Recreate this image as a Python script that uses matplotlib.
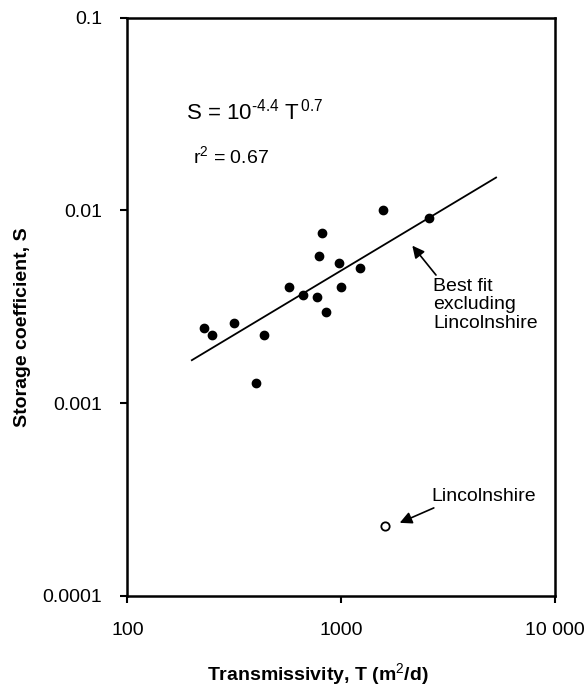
import matplotlib
matplotlib.use("Agg")
import matplotlib.pyplot as plt
import numpy as np

# transmissivity (m2/d) and storage coefficient
T_sites = [228, 249, 315, 435, 400, 567, 659, 774, 853, 813, 791, 977, 998, 1224, 1568, 2564]
S_sites = [0.00244, 0.00226, 0.00260, 0.00226, 0.00127, 0.00402, 0.00364, 0.00355,
           0.00298, 0.00766, 0.00578, 0.00531, 0.00399, 0.00500, 0.0101, 0.00917]

T_lincs = [1597]
S_lincs = [0.000231]

# fitted line as drawn: log S = a + b log T
fit_a = -4.31
fit_b = 0.666
fit_T_range = [200, 5300]

x_ticks = [100, 1000, 10000]
x_tick_labels = ["100", "1000", "10 000"]
y_ticks = [0.0001, 0.001, 0.01, 0.1]
y_tick_labels = ["0.0001", "0.001", "0.01", "0.1"]

plt.rcParams["font.family"] = ["Liberation Sans", "DejaVu Sans"]
plt.rcParams["mathtext.fontset"] = "custom"
plt.rcParams["mathtext.rm"] = "Liberation Sans"
plt.rcParams["mathtext.it"] = "Liberation Sans"
plt.rcParams["mathtext.bf"] = "Liberation Sans:bold"

fig = plt.figure(figsize=(5.87, 6.86), dpi=100)
ax = fig.add_axes([0.2172, 0.1316, 0.7283, 0.8426])

ax.set_xscale("log")
ax.set_yscale("log")
ax.set_xlim(100, 10000)
ax.set_ylim(0.0001, 0.1)

tt = np.array(fit_T_range, dtype=float)
ax.plot(tt, 10 ** (fit_a + fit_b * np.log10(tt)), color="black", lw=1.3, zorder=2)

ax.plot(T_sites, S_sites, "o", color="black", ms=6, zorder=3)
ax.plot(T_lincs, S_lincs, "o", mfc="white", mec="black", mew=1.3, ms=6, zorder=3)

ax.set_xticks(x_ticks)
ax.set_xticklabels(x_tick_labels)
ax.set_yticks(y_ticks)
ax.set_yticklabels(y_tick_labels)
ax.minorticks_off()
ax.tick_params(direction="out", length=5, width=1.5, labelsize=14, pad=14, colors="black")
ax.tick_params(axis="y", pad=13)
for sp in ax.spines.values():
    sp.set_linewidth(1.8)

ax.set_xlabel("Transmissivity, T (m$^{2}$/d)", fontsize=14, fontweight="bold")
ax.set_ylabel("Storage coefficient, S", fontsize=14, fontweight="bold")
ax.xaxis.set_label_coords(0.4456, -0.113)
ax.yaxis.set_label_coords(-0.226, 0.465)

ax.text(0.137, 0.837, "S = 10$^{\\text{-}4.4}$ T$^{\\,0.7}$", transform=ax.transAxes,
        fontsize=16, va="center", ha="left")
ax.text(0.153, 0.760, "r$^{2}$ = 0.67", transform=ax.transAxes,
        fontsize=14, va="center", ha="left")

ax.annotate("Best fit\nexcluding\nLincolnshire", xy=(2150, 0.00656),
            xytext=(0.7146, 0.55), textcoords="axes fraction",
            fontsize=14, va="top", ha="left", linespacing=1.12,
            arrowprops=dict(arrowstyle="-|>", color="black", lw=1.2, mutation_scale=18,
                            shrinkA=0, shrinkB=0, relpos=(0.05, 1.0)))
ax.annotate("Lincolnshire", xy=(1877, 0.000239),
            xytext=(0.7116, 0.1725), textcoords="axes fraction",
            fontsize=14, va="center", ha="left",
            arrowprops=dict(arrowstyle="-|>", color="black", lw=1.2, mutation_scale=18,
                            shrinkA=0, shrinkB=0, relpos=(0.02, -0.2)))

fig.savefig("out.png", dpi=100)
